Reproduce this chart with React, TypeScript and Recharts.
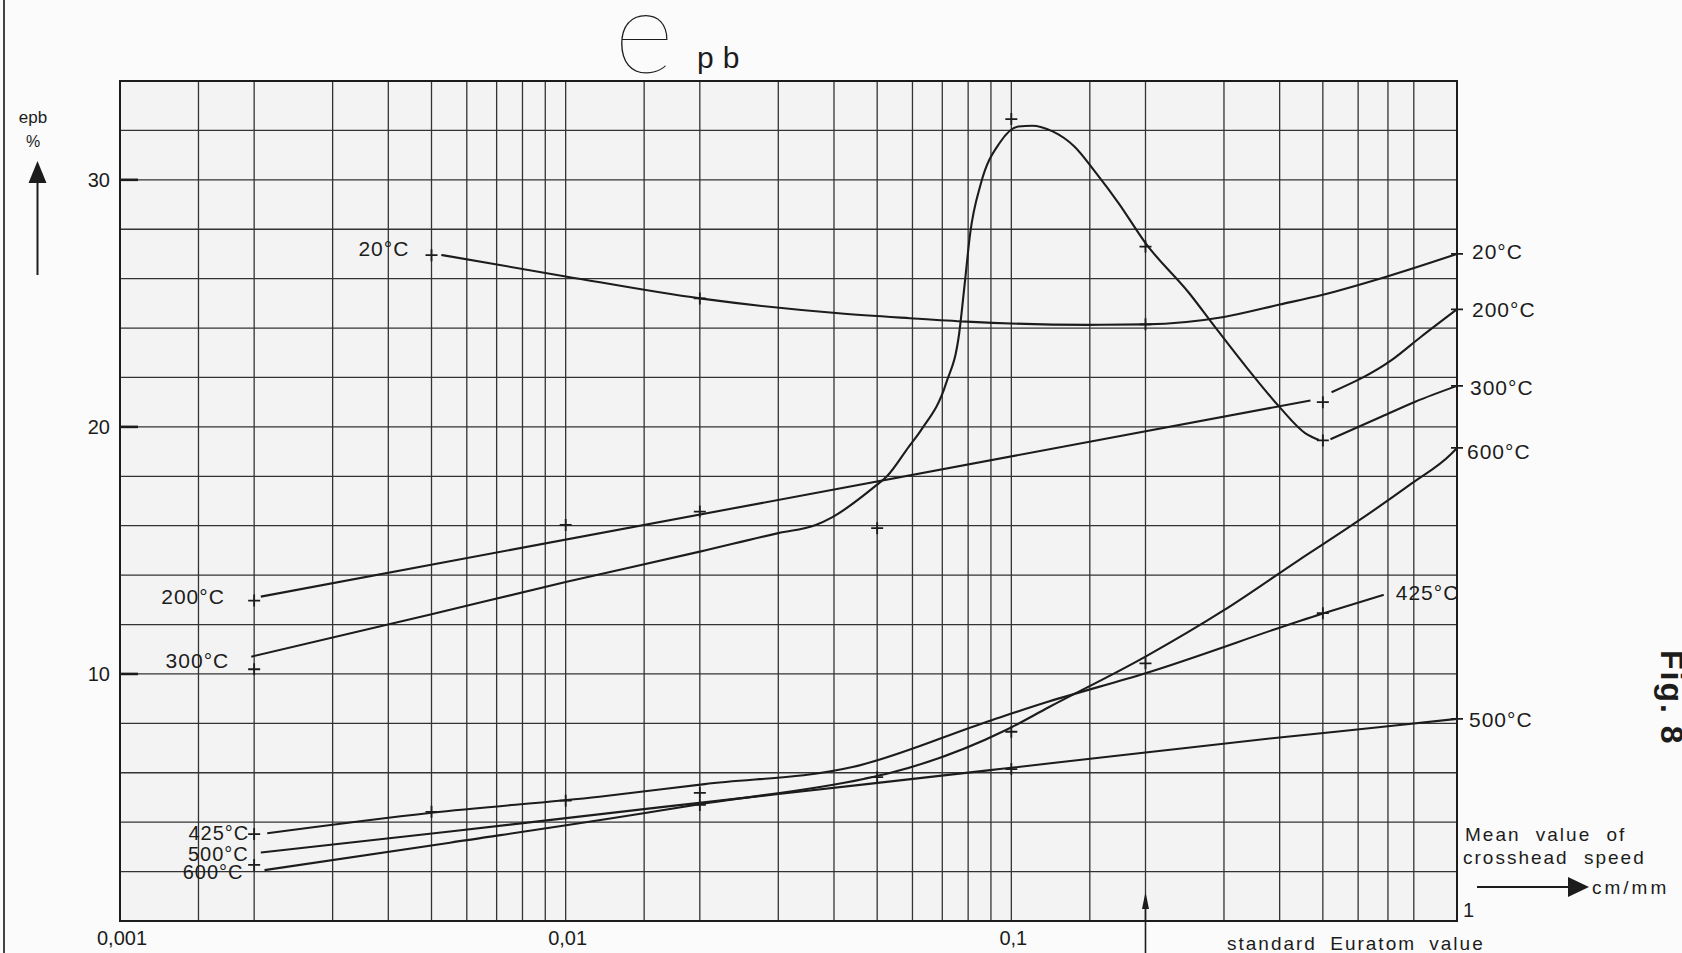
import React from 'react';
import {
  ComposedChart,
  Line,
  Scatter,
  XAxis,
  YAxis,
  CartesianGrid,
  ReferenceArea,
  ReferenceDot,
} from 'recharts';

const W = 1682;
const H = 953;
const INK = '#1c1c1c';
const FONT = "'Liberation Sans', Arial, sans-serif";

// x = mean crosshead speed (cm/mm, log), y = epb (%)
// curves as drawn on the sheet
const curve20 = [
  { x: 0.00526, y: 26.96 }, { x: 0.01, y: 26.09 }, { x: 0.02, y: 25.2 }, { x: 0.041, y: 24.6 },
  { x: 0.0592, y: 24.4 }, { x: 0.0794, y: 24.26 }, { x: 0.149, y: 24.13 }, { x: 0.2, y: 24.15 },
  { x: 0.3, y: 24.45 }, { x: 0.4, y: 24.95 }, { x: 0.5, y: 25.35 }, { x: 0.7, y: 26.1 }, { x: 1, y: 27.0 },
];
const curve200a = [{ x: 0.00207, y: 13.13 }, { x: 0.469, y: 21.07 }];
const curve200b = [{ x: 0.523, y: 21.4 }, { x: 0.713, y: 22.7 }, { x: 0.832, y: 23.66 }, { x: 1, y: 24.76 }];
const curve300a = [
  { x: 0.00197, y: 10.7 }, { x: 0.005, y: 12.42 }, { x: 0.01, y: 13.72 }, { x: 0.02, y: 14.95 },
  { x: 0.03, y: 15.7 }, { x: 0.0364, y: 16.03 }, { x: 0.0396, y: 16.34 }, { x: 0.0495, y: 17.6 },
  { x: 0.0526, y: 18.0 }, { x: 0.0589, y: 19.2 }, { x: 0.0629, y: 19.9 }, { x: 0.0714, y: 21.77 },
  { x: 0.0764, y: 23.8 }, { x: 0.0786, y: 25.8 }, { x: 0.0808, y: 27.8 }, { x: 0.0855, y: 29.87 },
  { x: 0.0942, y: 31.5 }, { x: 0.1037, y: 32.16 }, { x: 0.1113, y: 32.19 }, { x: 0.1238, y: 31.96 },
  { x: 0.1385, y: 31.35 }, { x: 0.155, y: 30.27 }, { x: 0.174, y: 29.06 }, { x: 0.2, y: 27.44 },
  { x: 0.251, y: 25.4 }, { x: 0.286, y: 24.06 }, { x: 0.336, y: 22.44 }, { x: 0.399, y: 20.82 },
  { x: 0.457, y: 19.74 }, { x: 0.49, y: 19.47 },
];
const curve300b = [{ x: 0.52, y: 19.5 }, { x: 0.678, y: 20.42 }, { x: 0.806, y: 21.02 }, { x: 1, y: 21.66 }];
const curve425 = [
  { x: 0.00214, y: 3.55 }, { x: 0.005, y: 4.38 }, { x: 0.0119, y: 5.03 }, { x: 0.0205, y: 5.54 },
  { x: 0.044, y: 6.23 }, { x: 0.0906, y: 8.14 }, { x: 0.1213, y: 8.88 }, { x: 0.2, y: 10.03 },
  { x: 0.5, y: 12.45 }, { x: 0.685, y: 13.2 },
];
const curve500 = [
  { x: 0.00207, y: 2.77 }, { x: 0.0055, y: 3.62 }, { x: 0.0162, y: 4.6 }, { x: 0.0479, y: 5.55 },
  { x: 0.0953, y: 6.16 }, { x: 0.2, y: 6.82 }, { x: 0.4, y: 7.43 }, { x: 0.7, y: 7.88 }, { x: 1, y: 8.18 },
];
const curve600 = [
  { x: 0.00211, y: 2.06 }, { x: 0.0055, y: 3.17 }, { x: 0.0162, y: 4.46 }, { x: 0.0192, y: 4.68 },
  { x: 0.0466, y: 5.75 }, { x: 0.0531, y: 5.98 }, { x: 0.0973, y: 7.73 }, { x: 0.1213, y: 8.65 },
  { x: 0.2, y: 10.7 }, { x: 0.3, y: 12.58 }, { x: 0.441, y: 14.6 }, { x: 0.59, y: 16.1 },
  { x: 0.79, y: 17.7 }, { x: 0.97, y: 18.9 }, { x: 1, y: 19.15 },
];

// measured points (the "+" marks)
const marks20 = [{ x: 0.005, y: 26.95 }, { x: 0.02, y: 25.2 }, { x: 0.2, y: 24.15 }, { x: 1, y: 27.0 }];
const marks200 = [{ x: 0.002, y: 12.97 }, { x: 0.01, y: 16.03 }, { x: 0.02, y: 16.57 }, { x: 0.5, y: 21.0 }, { x: 1, y: 24.76 }];
const marks300 = [{ x: 0.002, y: 10.19 }, { x: 0.05, y: 15.9 }, { x: 0.1, y: 32.46 }, { x: 0.2, y: 27.3 }, { x: 0.5, y: 19.45 }, { x: 1, y: 21.66 }];
const marks425 = [{ x: 0.002, y: 3.52 }, { x: 0.005, y: 4.42 }, { x: 0.01, y: 4.87 }, { x: 0.02, y: 5.19 }, { x: 0.2, y: 10.43 }, { x: 0.5, y: 12.46 }];
const marks500 = [{ x: 0.02, y: 4.7 }, { x: 0.1, y: 6.15 }, { x: 1, y: 8.18 }];
const marks600 = [{ x: 0.002, y: 2.27 }, { x: 0.05, y: 5.82 }, { x: 0.1, y: 7.66 }, { x: 1, y: 19.15 }];

// axes
const decades = [0.001, 0.01, 0.1];
const subSteps = [1, 1.5, 2, 3, 4, 5, 6, 7, 8, 9];
const xLabelValues = [0.001, 0.01, 0.1, 1];
const xLabelTexts = ['0,001', '0,01', '0,1', '1'];
const yGrid = [0, 2, 4, 6, 8, 10, 12, 14, 16, 18, 20, 22, 24, 26, 28, 30, 32, 34];
const yLabelValues = [10, 20, 30];

// no 0.9 line on the sheet
const xGrid = [
  ...decades.flatMap((d) =>
    subSteps.filter((s) => !(d === 0.1 && s === 9)).map((s) => Number((d * s).toPrecision(3)))
  ),
  1,
];

// curve-end labels; dx/dy are pixel nudges
const labelSpecs = [
  { text: '20°C', curve: curve20, side: 'start', dx: -32, dy: 1, size: 21 },
  { text: '200°C', curve: curve200a, side: 'start', dx: -36, dy: 7, size: 21 },
  { text: '300°C', curve: curve300a, side: 'start', dx: -22, dy: 11, size: 21 },
  { text: '425°C', curve: curve425, side: 'start', dx: -18, dy: 7, size: 20 },
  { text: '500°C', curve: curve500, side: 'start', dx: -12, dy: 8, size: 20 },
  { text: '600°C', curve: curve600, side: 'start', dx: -21, dy: 9, size: 20 },
  { text: '20°C', curve: curve20, side: 'end', dx: 15, dy: 5, size: 21 },
  { text: '200°C', curve: curve200b, side: 'end', dx: 15, dy: 8, size: 21 },
  { text: '300°C', curve: curve300b, side: 'end', dx: 13, dy: 9, size: 21 },
  { text: '600°C', curve: curve600, side: 'end', dx: 10, dy: 11, size: 21 },
  { text: '425°C', curve: curve425, side: 'end', dx: 12, dy: 5, size: 21 },
  { text: '500°C', curve: curve500, side: 'end', dx: 12, dy: 8, size: 21 },
];
const labelPoints = labelSpecs.map((s) => {
  const p = s.side === 'start' ? s.curve[0] : s.curve[s.curve.length - 1];
  return { x: p.x, y: p.y, text: s.text, side: s.side, dx: s.dx, dy: s.dy, size: s.size };
});

const curves = [curve20, curve200a, curve200b, curve300a, curve300b, curve425, curve500, curve600];
const markSets = [marks20, marks200, marks300, marks425, marks500, marks600];

const Plus = (props: any) => {
  const { cx, cy } = props;
  if (cx == null || cy == null) return <g />;
  return <path d={`M${cx - 6},${cy} h12 M${cx},${cy - 6} v12`} stroke={INK} strokeWidth={1.8} fill="none" />;
};

const CurveLabel = (props: any) => {
  const { cx, cy, payload } = props;
  if (cx == null || !payload) return <g />;
  return (
    <text
      x={cx + payload.dx}
      y={cy + payload.dy}
      textAnchor={payload.side === 'start' ? 'end' : 'start'}
      fontFamily={FONT}
      fontSize={payload.size}
      letterSpacing={1}
      fill={INK}
    >
      {payload.text}
    </text>
  );
};

const XTick = (props: any) => {
  const { x, y, payload } = props;
  const i = xLabelValues.findIndex((v) => Math.abs(v - payload.value) < 1e-9);
  if (i < 0) return <g />;
  if (xLabelValues[i] === 1) {
    return (
      <text x={x + 6} y={y - 4} fontFamily={FONT} fontSize={20} fill={INK}>
        {xLabelTexts[i]}
      </text>
    );
  }
  return (
    <text x={x + 2} y={y + 24} textAnchor="middle" fontFamily={FONT} fontSize={20} fill={INK}>
      {xLabelTexts[i]}
    </text>
  );
};

const YTick = (props: any) => {
  const { x, y, payload } = props;
  if (!yLabelValues.includes(payload.value)) return <g />;
  return (
    <g>
      <text x={x} y={y + 7} textAnchor="end" fontFamily={FONT} fontSize={20} fill={INK}>
        {payload.value}
      </text>
      <line x1={x + 10} x2={x + 28} y1={y} y2={y} stroke={INK} strokeWidth={2.6} />
    </g>
  );
};

// arrow under the 0.2 line ("standard Euratom value")
const EuratomArrow = (props: any) => {
  const { cx, cy } = props;
  if (cx == null) return <g />;
  return (
    <g>
      <line x1={cx} x2={cx} y1={cy + 34} y2={cy - 20} stroke={INK} strokeWidth={1.6} />
      <path d={`M${cx},${cy - 29} L${cx - 3.5},${cy - 12} L${cx + 3.5},${cy - 12} Z`} fill={INK} />
    </g>
  );
};

export default function App() {
  return (
    <div style={{ position: 'absolute', left: 0, top: 0, width: W, height: H, background: '#fbfbfb', overflow: 'hidden' }}>
      <ComposedChart width={W} height={H} margin={{ top: 81, right: 225, bottom: 0, left: 0 }}>
        <CartesianGrid stroke="#333" strokeWidth={1.3} fill="#f3f3f3" />
        <XAxis
          dataKey="x"
          type="number"
          scale="log"
          domain={[0.001, 1]}
          ticks={xGrid}
          interval={0}
          height={32}
          tickSize={0}
          tickMargin={0}
          tickLine={false}
          axisLine={{ stroke: INK, strokeWidth: 2 }}
          tick={<XTick />}
        />
        <YAxis
          type="number"
          domain={[0, 34]}
          ticks={yGrid}
          interval={0}
          width={120}
          tickSize={0}
          tickMargin={10}
          tickLine={false}
          axisLine={{ stroke: INK, strokeWidth: 2 }}
          tick={<YTick />}
        />
        <ReferenceArea x1={0.001} x2={1} y1={0} y2={34} fill="none" stroke={INK} strokeWidth={2} />
        {curves.map((c, i) => (
          <Line
            key={`c${i}`}
            data={c}
            dataKey="y"
            type="monotone"
            stroke={INK}
            strokeWidth={2.1}
            dot={false}
            activeDot={false}
            isAnimationActive={false}
          />
        ))}
        {markSets.map((m, i) => (
          <Scatter key={`m${i}`} data={m} dataKey="y" shape={<Plus />} isAnimationActive={false} />
        ))}
        <Scatter data={labelPoints} dataKey="y" shape={<CurveLabel />} isAnimationActive={false} />
        <ReferenceDot x={0.2} y={0} r={0} ifOverflow="visible" shape={<EuratomArrow />} />
      </ComposedChart>

      <svg width={W} height={H} style={{ position: 'absolute', left: 0, top: 0, pointerEvents: 'none' }}>
        <line x1={4} x2={4} y1={0} y2={H} stroke="#444" strokeWidth={2} />
        <text x={33} y={123} textAnchor="middle" fontFamily={FONT} fontSize={17} fill={INK}>epb</text>
        <text x={33} y={147} textAnchor="middle" fontFamily={FONT} fontSize={16} fill={INK}>%</text>
        <line x1={37.5} x2={37.5} y1={275} y2={178} stroke={INK} strokeWidth={2} />
        <path d="M37.5,161 L28.5,183 L46.5,183 Z" fill={INK} />

        <text x={644} y={73} textAnchor="middle" fontFamily="Lato, 'Open Sans', sans-serif" fontWeight={200} fontSize={116} fill={INK}>e</text>
        <text x={697} y={68} fontFamily={FONT} fontSize={30} letterSpacing={9} fill={INK}>pb</text>

        <text x={1465} y={841} fontFamily={FONT} fontSize={19} letterSpacing={2} wordSpacing={8} fill={INK}>Mean value of</text>
        <text x={1463} y={864} fontFamily={FONT} fontSize={19} letterSpacing={2} wordSpacing={8} fill={INK}>crosshead speed</text>
        <line x1={1477} x2={1572} y1={887} y2={887} stroke={INK} strokeWidth={2} />
        <path d="M1589,887 L1568,877 L1568,897 Z" fill={INK} />
        <text x={1592} y={894} fontFamily={FONT} fontSize={19} letterSpacing={3} fill={INK}>cm/mm</text>
        <text x={1227} y={950} fontFamily={FONT} fontSize={19} letterSpacing={2} wordSpacing={6} fill={INK}>standard Euratom value</text>

        <text transform="translate(1661,650) rotate(90)" fontFamily={FONT} fontWeight="bold" fontSize={32} letterSpacing={2} fill={INK}>Fig. 8</text>
      </svg>
    </div>
  );
}
